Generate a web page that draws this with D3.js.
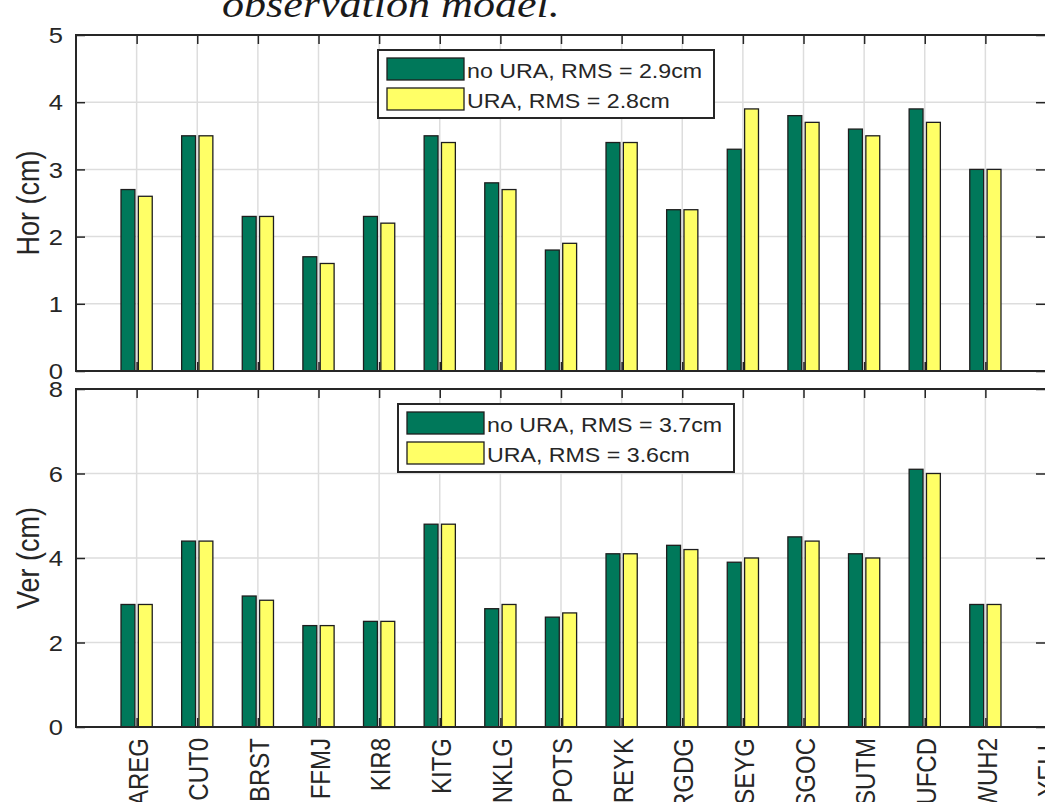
<!DOCTYPE html>
<html>
<head>
<meta charset="utf-8">
<script src="https://cdn.jsdelivr.net/npm/d3@7"></script>
<style>
  body { margin: 0; background: #fff; }
  svg { display: block; }
  text { font-family: "Liberation Sans", Arial, sans-serif; fill: #262626; }
</style>
</head>
<body>
<svg id="fig" width="1045" height="802"></svg>
<script>
// Station names along the x axis
const stations = ["AREG", "CUT0", "BRST", "FFMJ", "KIR8", "KITG", "NKLG", "POTS",
                  "REYK", "RGDG", "SEYG", "SGOC", "SUTM", "UFCD", "WUH2", "YELL"];

// Horizontal RMS per station (cm)
const horNoURA = [2.7, 3.5, 2.3, 1.7, 2.3, 3.5, 2.8, 1.8, 3.4, 2.4, 3.3, 3.8, 3.6, 3.9, 3.0];
const horURA   = [2.6, 3.5, 2.3, 1.6, 2.2, 3.4, 2.7, 1.9, 3.4, 2.4, 3.9, 3.7, 3.5, 3.7, 3.0];

// Vertical RMS per station (cm)
const verNoURA = [2.9, 4.4, 3.1, 2.4, 2.5, 4.8, 2.8, 2.6, 4.1, 4.3, 3.9, 4.5, 4.1, 6.1, 2.9];
const verURA   = [2.9, 4.4, 3.0, 2.4, 2.5, 4.8, 2.9, 2.7, 4.1, 4.2, 4.0, 4.4, 4.0, 6.0, 2.9];

// Legend entries
const horLegend = ["no URA, RMS = 2.9cm", "URA, RMS = 2.8cm"];
const verLegend = ["no URA, RMS = 3.7cm", "URA, RMS = 3.6cm"];

// Y tick values
const horTicks = [0, 1, 2, 3, 4, 5];
const verTicks = [0, 2, 4, 6, 8];

const GREEN = "#00785a";
const YELLOW = "#ffff66";
const INK = "#262626";
const GRID = "#dddddd";
const SX = 1.16;           // horizontal text stretch
const BAR_W = 0.229;       // bar width in category units
const BAR_OFF = 0.143;     // bar offset from category centre

const svg = d3.select("#fig");

// Caption line from the page above the figure
svg.append("text")
  .attr("transform", `translate(222,17) scale(${SX},1)`)
  .style("font-family", "'Times New Roman', 'Liberation Serif', 'Noto Serif', 'DejaVu Serif', serif")
  .style("font-style", "italic")
  .style("font-size", "38px")
  .style("fill", "#1a1a1a")
  .text("observation model.");

const x = d3.scaleLinear().domain([0, stations.length]).range([76, 1046]);

function drawPanel(p) {
  const y = d3.scaleLinear().domain([0, p.max]).range([p.bottom, p.top]);
  const g = svg.append("g");
  const cats = stations.map((_, i) => i + 1);

  // grid
  g.append("g").selectAll("line").data(cats).join("line")
    .attr("x1", d => x(d)).attr("x2", d => x(d))
    .attr("y1", p.top).attr("y2", p.bottom)
    .attr("stroke", GRID).attr("stroke-width", 1.5);
  g.append("g").selectAll("line").data(p.ticks).join("line")
    .attr("x1", x(0)).attr("x2", x(stations.length))
    .attr("y1", d => y(d)).attr("y2", d => y(d))
    .attr("stroke", GRID).attr("stroke-width", 1.5);

  // axes (ticks pointing inward)
  const left = g.append("g").attr("transform", `translate(${x(0)},0)`)
    .call(d3.axisLeft(y).tickValues(p.ticks).tickFormat(d3.format("d")).tickSize(-9).tickPadding(13));
  const right = g.append("g").attr("transform", `translate(${x(stations.length)},0)`)
    .call(d3.axisRight(y).tickValues(p.ticks).tickFormat("").tickSize(-10));
  const topAx = g.append("g").attr("transform", `translate(0,${p.top})`)
    .call(d3.axisTop(x).tickValues(cats).tickFormat("").tickSize(-9));
  const botAx = g.append("g").attr("transform", `translate(0,${p.bottom})`)
    .call(d3.axisBottom(x).tickValues(cats).tickFormat(p.showNames ? (d => stations[d - 1]) : "").tickSize(-9).tickPadding(11));

  [left, right, topAx, botAx].forEach(a => {
    a.select(".domain").remove();
    a.attr("font-family", null).attr("font-size", null);
    a.selectAll(".tick line").attr("stroke", INK).attr("stroke-width", 1.5);
  });

  left.selectAll(".tick text")
    .attr("x", 0).attr("dy", "0.35em")
    .attr("transform", `translate(-13,0) scale(${SX},1)`)
    .style("font-size", "22px").style("fill", INK);

  if (p.showNames) {
    botAx.selectAll(".tick text")
      .attr("x", 0).attr("y", 0).attr("dy", null)
      .attr("transform", `translate(1,11) scale(${SX},1) rotate(-90)`)
      .attr("text-anchor", "end")
      .attr("dominant-baseline", "central")
      .style("font-size", "24px").style("fill", INK);
  }

  // bars
  const series = [{ vals: p.a, fill: GREEN, off: -BAR_OFF }, { vals: p.b, fill: YELLOW, off: BAR_OFF }];
  series.forEach(s => {
    g.append("g").selectAll("rect").data(s.vals).join("rect")
      .attr("x", (d, i) => x(i + 1 + s.off - BAR_W / 2))
      .attr("width", x(BAR_W) - x(0))
      .attr("y", d => y(d))
      .attr("height", d => y(0) - y(d))
      .attr("fill", s.fill)
      .attr("stroke", "#1e1e1e").attr("stroke-width", 1.3);
  });

  // frame
  g.append("rect")
    .attr("x", x(0)).attr("y", p.top)
    .attr("width", x(stations.length) - x(0)).attr("height", p.bottom - p.top)
    .attr("fill", "none").attr("stroke", INK).attr("stroke-width", 2);

  // y label
  g.append("text")
    .attr("transform", `translate(28,${(p.top + p.bottom) / 2}) scale(${SX},1) rotate(-90)`)
    .attr("text-anchor", "middle").attr("dominant-baseline", "central")
    .style("font-size", "27px")
    .text(p.label);

  // legend
  const lg = g.append("g").attr("transform", `translate(${p.legX},${p.legY})`);
  lg.append("rect").attr("x", 0).attr("y", 0).attr("width", 336).attr("height", 68)
    .attr("fill", "#fff").attr("stroke", INK).attr("stroke-width", 2);
  [GREEN, YELLOW].forEach((c, k) => {
    const row = lg.append("g").attr("transform", `translate(0,${8 + k * 30})`);
    row.append("rect").attr("x", 9).attr("y", 0).attr("width", 77).attr("height", 22)
      .attr("fill", c).attr("stroke", "#1e1e1e").attr("stroke-width", 1.3);
    row.append("text")
      .attr("transform", `translate(89,20) scale(${SX},1)`)
      .style("font-size", "20px")
      .text(p.legend[k]);
  });
}

drawPanel({ top: 35, bottom: 371, max: 5, ticks: horTicks, a: horNoURA, b: horURA,
            label: "Hor (cm)", legend: horLegend, legX: 378, legY: 50, showNames: false });
drawPanel({ top: 389, bottom: 727, max: 8, ticks: verTicks, a: verNoURA, b: verURA,
            label: "Ver (cm)", legend: verLegend, legX: 398, legY: 404, showNames: true });
</script>
</body>
</html>
